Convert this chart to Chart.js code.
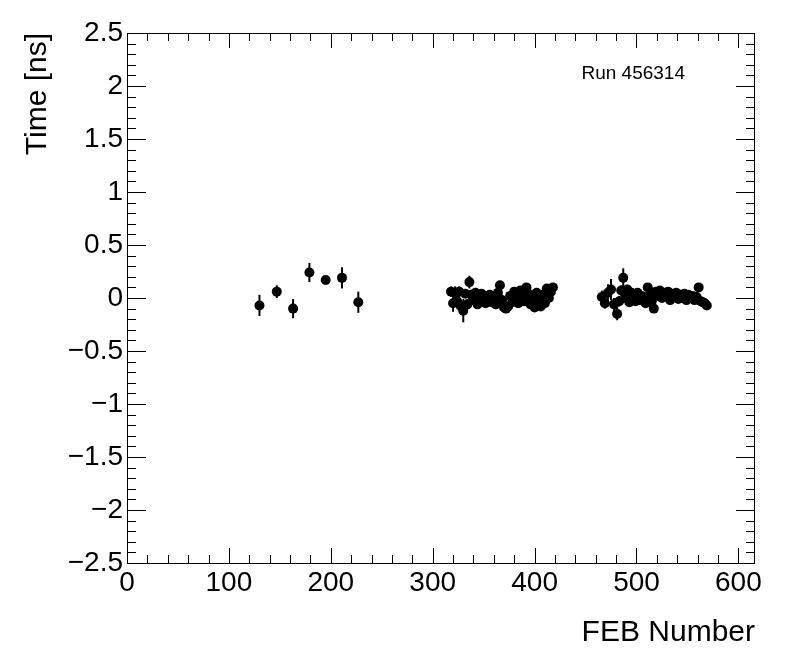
<!DOCTYPE html>
<html lang="en">
<head>
    <meta charset="UTF-8">
    <title>FEB Time</title>
    <script src="https://cdn.jsdelivr.net/npm/chart.js"></script>
    <style>
        html, body { margin: 0; padding: 0; background: #fff; }
        #wrap { width: 796px; height: 672px; }
    </style>
</head>
<body>
    <div id="wrap"><canvas id="timeChart"></canvas></div>

    <script>
        // FEB numbers, mean time [ns] and error
        const febA = [130, 147, 163, 179, 195, 211, 227];
        const timeA = [-0.07, 0.06, -0.10, 0.24, 0.17, 0.19, -0.04];
        const errA = [0.10, 0.06, 0.09, 0.09, 0.03, 0.10, 0.10];

        const febB = [318, 320, 322, 324, 326, 328, 330, 332, 334, 336, 338, 340, 342, 344, 346, 348, 350,
            352, 354, 356, 358, 360, 362, 364, 366, 368, 370, 372, 374, 376, 378, 380, 382, 384, 386,
            388, 390, 392, 394, 396, 398, 400, 402, 404, 406, 408, 410, 412, 414, 416, 418];
        const timeB = [0.06, -0.05, 0.05, -0.03, 0.06, -0.08, -0.12, 0.04, -0.06, 0.15, 0.03, -0.02, 0.05, -0.06, 0.02, 0.04, -0.02,
            -0.05, 0.00, 0.03, -0.04, 0.02, -0.06, 0.05, 0.12, -0.02, -0.09, -0.10, -0.08, 0.02, -0.04, 0.06, 0.00, -0.05, 0.07,
            0.02, -0.03, 0.10, 0.04, -0.06, 0.00, -0.09, 0.05, -0.03, -0.08, 0.03, -0.05, 0.09, 0.00, 0.06, 0.10];
        const errB = [0.05, 0.08, 0.06, 0.07, 0.05, 0.06, 0.11, 0.04, 0.05, 0.06, 0.04, 0.03, 0.04, 0.04, 0.03, 0.03, 0.03,
            0.03, 0.03, 0.03, 0.03, 0.03, 0.03, 0.03, 0.04, 0.03, 0.03, 0.03, 0.03, 0.03, 0.03, 0.03, 0.03, 0.03, 0.03,
            0.03, 0.03, 0.03, 0.03, 0.03, 0.03, 0.03, 0.03, 0.03, 0.03, 0.03, 0.03, 0.03, 0.03, 0.03, 0.03];

        const febC = [466, 469, 472, 475, 478, 481, 483, 485, 487, 489, 491, 493, 495, 497, 499, 501, 503, 505, 507, 509,
            511, 513, 515, 517, 519, 521, 523, 525, 527, 529, 531, 533, 535, 537, 539, 541, 543, 545, 547, 549,
            551, 553, 555, 557, 559, 561, 563, 565, 567, 569];
        const timeC = [0.01, -0.05, 0.05, 0.08, -0.06, -0.15, -0.03, 0.07, 0.19, 0.00, 0.08, -0.04, 0.05, 0.03, -0.03, 0.05, -0.02, 0.02, 0.00, -0.05,
            0.10, 0.03, -0.03, -0.10, 0.06, 0.02, 0.07, 0.00, 0.05, 0.02, 0.06, -0.02, 0.04, 0.01, 0.05, -0.01, 0.03, 0.00, 0.04, -0.02,
            0.03, 0.00, 0.02, -0.02, 0.01, 0.10, -0.03, -0.04, -0.05, -0.07];
        const errC = [0.06, 0.05, 0.08, 0.10, 0.06, 0.06, 0.05, 0.05, 0.09, 0.04, 0.04, 0.03, 0.03, 0.03, 0.03, 0.03, 0.03, 0.03, 0.03, 0.03,
            0.03, 0.03, 0.03, 0.03, 0.03, 0.03, 0.03, 0.03, 0.03, 0.03, 0.03, 0.03, 0.03, 0.03, 0.03, 0.03, 0.03, 0.03, 0.03, 0.03,
            0.03, 0.03, 0.03, 0.03, 0.03, 0.03, 0.03, 0.03, 0.03, 0.03];

        const xTicks = [0, 100, 200, 300, 400, 500, 600];
        const runLabel = 'Run 456314';

        const allFeb = febA.concat(febB, febC);
        const allTime = timeA.concat(timeB, timeC);
        const allErr = errA.concat(errB, errC);
        const points = allFeb.map((f, i) => ({ x: f, y: allTime[i] }));

        const FONT = "'Liberation Sans', Arial, sans-serif";

        // vertical error bars drawn through the scales
        const errorBars = {
            id: 'errorBars',
            beforeDatasetsDraw(chart) {
                const { ctx, scales: { x, y } } = chart;
                ctx.save();
                ctx.strokeStyle = '#000';
                ctx.lineWidth = 2;
                allFeb.forEach((f, i) => {
                    const px = x.getPixelForValue(f);
                    ctx.beginPath();
                    ctx.moveTo(px, y.getPixelForValue(allTime[i] - allErr[i]));
                    ctx.lineTo(px, y.getPixelForValue(allTime[i] + allErr[i]));
                    ctx.stroke();
                });
                ctx.restore();
            }
        };

        // ROOT style frame with inward ticks on all four sides, plus run label
        const rootFrame = {
            id: 'rootFrame',
            afterDraw(chart) {
                const { ctx, chartArea: a, scales: { x, y } } = chart;
                ctx.save();
                ctx.strokeStyle = '#000';
                ctx.lineWidth = 1;
                ctx.strokeRect(a.left + 0.5, a.top + 0.5, a.right - a.left - 1, a.bottom - a.top);
                ctx.beginPath();
                for (let v = 0; v <= x.max + 1e-6; v += 20) {
                    const px = Math.round(x.getPixelForValue(v)) + 0.5;
                    const len = v % 100 === 0 ? 15 : 8;
                    ctx.moveTo(px, a.bottom); ctx.lineTo(px, a.bottom - len);
                    ctx.moveTo(px, a.top); ctx.lineTo(px, a.top + len);
                }
                for (let k = -25; k <= 25; k++) {
                    const py = Math.round(y.getPixelForValue(k / 10)) + 0.5;
                    const len = k % 5 === 0 ? 19 : 9;
                    ctx.moveTo(a.left, py); ctx.lineTo(a.left + len, py);
                    ctx.moveTo(a.right, py); ctx.lineTo(a.right - len, py);
                }
                ctx.stroke();

                ctx.fillStyle = '#000';
                ctx.font = '19px ' + FONT;
                ctx.textAlign = 'left';
                ctx.textBaseline = 'middle';
                ctx.fillText(runLabel, x.getPixelForValue(446), y.getPixelForValue(2.12));
                ctx.restore();
            }
        };

        new Chart(document.getElementById('timeChart'), {
            type: 'scatter',
            data: {
                datasets: [{
                    label: 'Time',
                    data: points,
                    pointRadius: 5,
                    pointHoverRadius: 5,
                    backgroundColor: '#000',
                    borderColor: '#000',
                    borderWidth: 0,
                    showLine: false
                }]
            },
            options: {
                responsive: true,
                maintainAspectRatio: false,
                animation: false,
                layout: { padding: { left: 0, right: 41, top: 33, bottom: 0 } },
                plugins: {
                    legend: { display: false },
                    tooltip: { enabled: false }
                },
                scales: {
                    x: {
                        type: 'linear',
                        min: 0,
                        max: 616.3,
                        afterBuildTicks: s => { s.ticks = xTicks.map(v => ({ value: v })); },
                        afterFit: s => { s.height = 109; },
                        grid: { display: false, drawTicks: false },
                        border: { display: false },
                        ticks: {
                            padding: 3,
                            maxRotation: 0,
                            color: '#000',
                            font: { family: FONT, size: 28 }
                        },
                        title: {
                            display: true,
                            text: 'FEB Number',
                            align: 'end',
                            color: '#000',
                            font: { family: FONT, size: 30 },
                            padding: { top: 0, bottom: 21 }
                        }
                    },
                    y: {
                        min: -2.5,
                        max: 2.5,
                        afterFit: s => { s.width = 127; },
                        grid: { display: false, drawTicks: false },
                        border: { display: false },
                        ticks: {
                            stepSize: 0.5,
                            padding: 4,
                            color: '#000',
                            font: { family: FONT, size: 28 },
                            callback: v => (v < 0 ? '\u2212' : '') + String(Math.abs(Math.round(v * 10) / 10))
                        },
                        title: {
                            display: true,
                            text: 'Time [ns]',
                            align: 'end',
                            color: '#000',
                            font: { family: FONT, size: 30 },
                            padding: { top: 20, bottom: 0 }
                        }
                    }
                }
            },
            plugins: [errorBars, rootFrame]
        });
    </script>
</body>
</html>
